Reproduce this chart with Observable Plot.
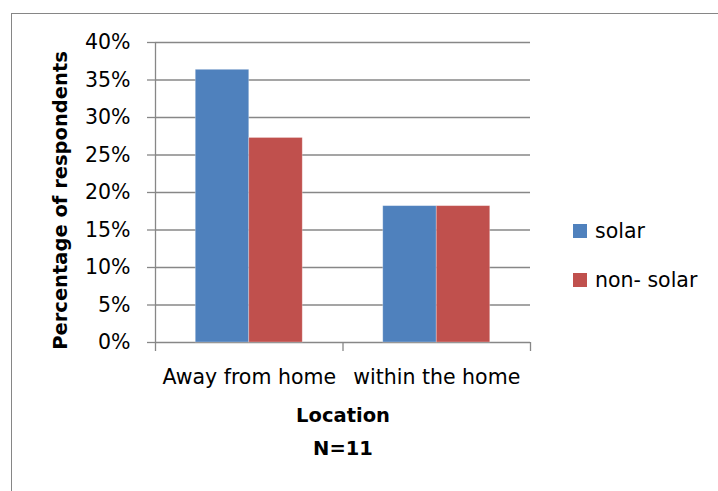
<!DOCTYPE html>
<html><head><meta charset="utf-8">
<script src="https://cdn.jsdelivr.net/npm/d3@7"></script>
<script src="https://cdn.jsdelivr.net/npm/@observablehq/plot@0.6"></script>
<style>
body{margin:0;background:#fff;}
#wrap{position:relative;width:718px;height:491px;overflow:hidden;font-family:"DejaVu Sans",sans-serif;background:#fff;}
#border{position:absolute;left:11px;top:13px;width:800px;height:600px;border:1px solid #868686;box-sizing:border-box;}
#chart{position:absolute;left:0;top:0;}
#legend{position:absolute;left:573px;top:221px;font-size:20.5px;color:#000;}
.item{display:flex;align-items:center;height:20px;line-height:20px;}
.item:first-child{margin-bottom:29px;}
.sw{width:14px;height:14px;margin-right:8px;flex:none;}
</style></head>
<body>
<div id="wrap"><div id="border"></div><div id="chart"></div><div id="legend"></div></div>
<script>
const categories = ["Away from home", "within the home"];
const series = ["solar", "non- solar"];
const solarValues = [0.3636, 0.1818];
const nonSolarValues = [0.2727, 0.1818];
const yTicks = [0, 0.05, 0.10, 0.15, 0.20, 0.25, 0.30, 0.35, 0.40];
const colors = ["#4F81BD", "#C0504D"];
const yTitle = "Percentage of respondents";
const xTitle = "Location";
const note = "N=11";

const rows = categories.flatMap((c, i) => series.map((s, j) => ({
  i, j, series: s, value: (j === 0 ? solarValues : nonSolarValues)[i]
})));
const bw = 0.2853;
const off = (1 - series.length * bw) / 2;
const grid = "#878787";
const font = "'DejaVu Sans', sans-serif";

const chart = Plot.plot({
  width: 718, height: 491,
  marginLeft: 155, marginRight: 188, marginTop: 42, marginBottom: 149,
  style: {fontFamily: font, fontSize: "20.5px", color: "#000", background: "transparent", overflow: "visible"},
  x: {domain: [0, categories.length], axis: null},
  y: {domain: [0, 0.4], axis: null},
  color: {domain: series, range: colors},
  marks: [
    Plot.gridY(yTicks, {stroke: grid, strokeOpacity: 1, strokeWidth: 1.3}),
    Plot.axisY(yTicks, {tickSize: 8, tickPadding: 17, tickFormat: d3.format(".0%"), stroke: grid, strokeWidth: 1.3, label: null, fontSize: 20.5}),
    Plot.ruleX([0], {stroke: grid, strokeWidth: 1.3}),
    Plot.axisX(d3.range(categories.length + 1), {tickSize: 9, tickFormat: () => "", stroke: grid, strokeWidth: 1.3, label: null}),
    Plot.axisX(categories.map((c, i) => i + 0.5), {tickSize: 0, tickPadding: 27, tickFormat: d => categories[Math.floor(d)], label: null, fontSize: 20.5}),
    Plot.rectY(rows, {x1: d => d.i + off + d.j * bw, x2: d => d.i + off + (d.j + 1) * bw, y: "value", fill: "series", stroke: "#fff", strokeOpacity: 0.35, strokeWidth: 0.8}),
    Plot.text([yTitle], {frameAnchor: "left", textAnchor: "middle", rotate: -90, dx: -95, dy: 8, fontWeight: "bold", fontSize: 19.5}),
    Plot.text([xTitle], {frameAnchor: "bottom", dy: 79, fontWeight: "bold", fontSize: 19.5}),
    Plot.text([note], {frameAnchor: "bottom", dy: 112, fontWeight: "bold", fontSize: 19.5})
  ]
});
document.getElementById("chart").append(chart);

const legend = document.getElementById("legend");
series.forEach((s, j) => {
  const it = document.createElement("div");
  it.className = "item";
  const sw = document.createElement("span");
  sw.className = "sw"; sw.style.background = colors[j];
  const t = document.createElement("span"); t.textContent = s;
  it.append(sw, t);
  legend.append(it);
});
</script>
</body></html>
